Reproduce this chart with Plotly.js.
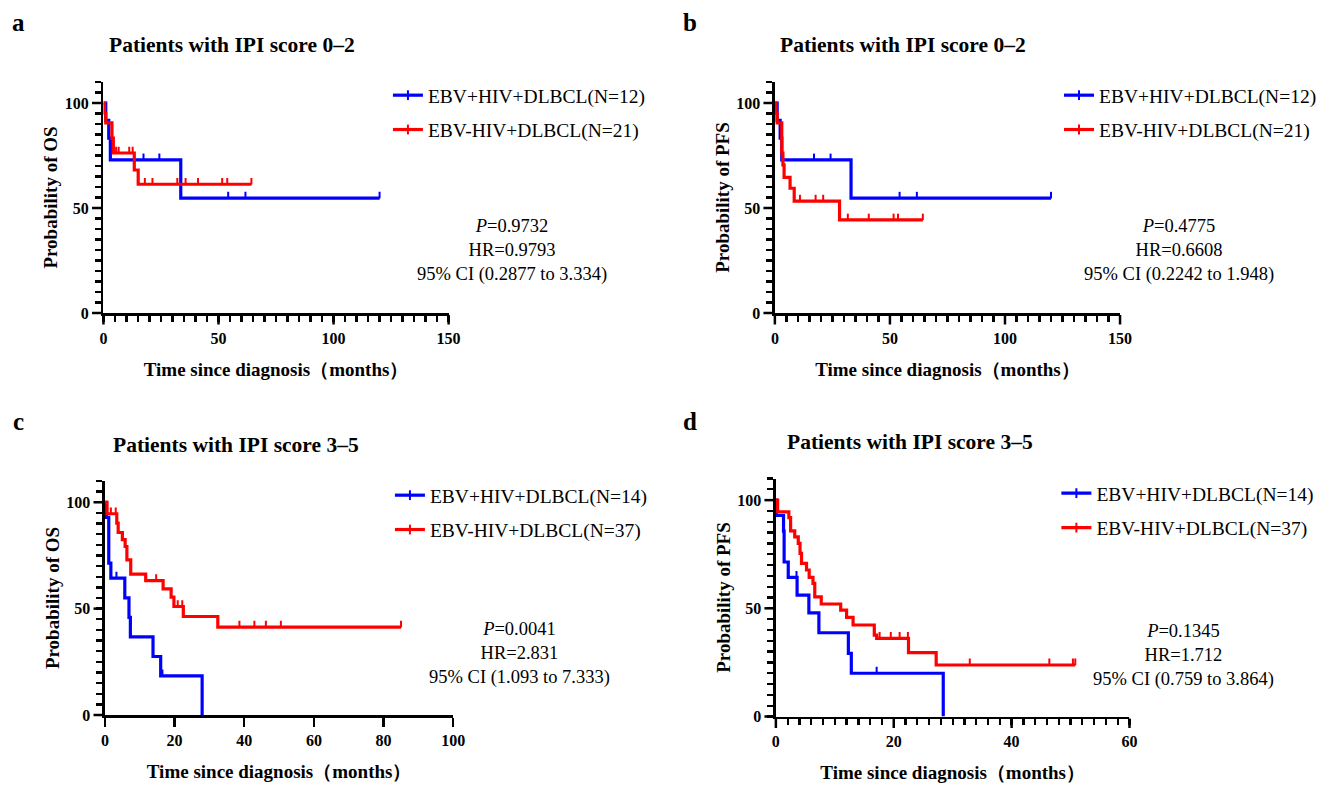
<!DOCTYPE html>
<html>
<head>
<meta charset="utf-8">
<script src="https://cdn.plot.ly/plotly-3.0.1.min.js"></script>
<style>
  body { margin: 0; background: #fff; }
  #chart { width: 1322px; height: 793px; }
</style>
</head>
<body>
<div id="chart"></div>
<script>
// ---- data (months, % surviving) ----
// a: OS, IPI 0-2
const osLowPosT = [0, 1, 2.3, 3, 33.6, 120];
const osLowPosS = [100, 91.7, 83.3, 72.9, 54.7, 54.7];
const osLowPosCens = [17.4, 24.3, 54.2, 61.7, 120];
const osLowNegT = [0, 0.5, 1, 3.7, 4.3, 13.4, 15.1, 64.3];
const osLowNegS = [100, 95.2, 90.5, 83.3, 76.2, 68.1, 61.3, 61.3];
const osLowNegCens = [5.5, 6.6, 11.2, 12.7, 18.0, 21.3, 32.1, 35.7, 41.1, 51.6, 53.8, 64.3];

// b: PFS, IPI 0-2
const pfsLowPosT = [0, 1, 2.3, 3, 33.1, 120];
const pfsLowPosS = [100, 91.7, 83.3, 72.9, 54.7, 54.7];
const pfsLowPosCens = [17.0, 24.2, 54.2, 61.7, 120];
const pfsLowNegT = [0, 0.5, 1, 3.0, 3.5, 4.0, 6.6, 8.4, 28.1, 64.3];
const pfsLowNegS = [100, 95.2, 90.5, 76.2, 70.5, 64.6, 59.4, 53.3, 44.3, 44.3];
const pfsLowNegCens = [10.9, 17.7, 21.0, 31.7, 40.8, 51.6, 53.5, 64.3];

// c: OS, IPI 3-5
const osHighPosT = [0, 0.4, 1.1, 1.7, 5.7, 6.9, 7.3, 13.8, 16.0, 27.9];
const osHighPosS = [100, 92.9, 71.4, 64.3, 55.1, 45.9, 36.7, 27.5, 18.4, 0];
const osHighPosCens = [3.3, 16.5];
const osHighNegT = [0, 0.6, 3.4, 3.8, 5.0, 5.8, 6.3, 7.4, 11.7, 16.7, 19.0, 19.8, 22.5, 32.4, 85.0];
const osHighNegS = [100, 94.6, 90.2, 85.8, 82.4, 79.2, 72.9, 66.2, 63.2, 59.3, 55.4, 51.0, 46.3, 41.3, 41.3];
const osHighNegCens = [1.7, 3.1, 14.7, 20.9, 22.2, 38.6, 42.9, 46.2, 50.5, 85.0];

// d: PFS, IPI 3-5
const pfsHighPosT = [0, 0.1, 1.3, 1.4, 2.1, 3.6, 5.6, 7.3, 12.3, 12.8, 28.4];
const pfsHighPosS = [100, 92.9, 85.7, 71.4, 64.3, 56.1, 47.9, 38.7, 29.2, 20.0, 0];
const pfsHighPosCens = [3.5, 17.1];
const pfsHighNegT = [0, 0.3, 2.2, 2.5, 3.2, 3.8, 4.1, 4.35, 5.2, 5.65, 6.3, 6.6, 7.7, 11.0, 12.0, 13.1, 16.7, 17.1, 22.5, 27.2, 50.8];
const pfsHighNegS = [100, 94.6, 91.9, 85.8, 83.0, 80.0, 75.4, 70.8, 67.7, 64.3, 61.5, 55.3, 52.0, 49.2, 45.8, 42.3, 37.6, 36.1, 29.5, 23.8, 23.8];
const pfsHighNegCens = [17.6, 19.5, 21.0, 22.4, 32.9, 46.4, 50.4, 50.8];

const groupNames = ['EBV+HIV+DLBCL', 'EBV-HIV+DLBCL'];
const groupN = {a: [12, 21], b: [12, 21], c: [14, 37], d: [14, 37]};
const panelTitles = {a: 'Patients with IPI score 0–2', b: 'Patients with IPI score 0–2',
                     c: 'Patients with IPI score 3–5', d: 'Patients with IPI score 3–5'};
const yTitles = {a: 'Probability of OS', b: 'Probability of PFS', c: 'Probability of OS', d: 'Probability of PFS'};
const xTitle = 'Time since diagnosis（months）';
const stats = {
  a: ['0.9732', '0.9793', '0.2877 to 3.334'],
  b: ['0.4775', '0.6608', '0.2242 to 1.948'],
  c: ['0.0041', '2.831', '1.093 to 7.333'],
  d: ['0.1345', '1.712', '0.759 to 3.864']
};

// ---- layout helpers (pixel boxes -> paper fractions) ----
const W = 1322, H = 793;
const px = x => x / W;
const py = y => 1 - y / H;

const BLUE = '#0000FF', RED = '#FF0000';
const SERIF = 'Liberation Serif, Times New Roman, serif';
const YMAX = 110;

// plot boxes: left/right = x range ends, top = y at 110, bottom = y at 0
const boxes = {
  a: {l: 104, r: 451, t: 82, b: 313, xmax: 150, dtick: 50, minor: 5},
  b: {l: 779, r: 1126, t: 82, b: 313, xmax: 150, dtick: 50, minor: 5},
  c: {l: 105.5, r: 455.7, t: 481, b: 715, xmax: 100, dtick: 20, minor: 20},
  d: {l: 780, r: 1135.5, t: 478.5, b: 716.5, xmax: 60, dtick: 20, minor: 2}
};

function stepAt(times, surv, t) {
  let v = surv[0];
  for (let i = 0; i < times.length; i++) {
    if (times[i] <= t) v = surv[i];
  }
  return v;
}

// every tick position on an axis, labelled only at the major steps
function tickSet(max, step, major, labelMax) {
  const vals = [], text = [];
  for (let k = 0; k * step <= max + 1e-9; k++) {
    const v = Math.round(k * step * 100) / 100;
    const isMajor = Math.abs(v / major - Math.round(v / major)) < 1e-6 && v <= labelMax;
    vals.push(v);
    text.push(isMajor ? String(v) : '');
  }
  return {vals, text};
}

function kmTraces(times, surv, cens, color, xa, ya) {
  const line = {
    x: times, y: surv, xaxis: xa, yaxis: ya,
    type: 'scatter', mode: 'lines',
    line: {color: color, width: 3.2, shape: 'hv'},
    showlegend: false, hoverinfo: 'skip'
  };
  // censor marks: short upward ticks
  const marks = {
    x: cens, y: cens.map(t => stepAt(times, surv, t)), xaxis: xa, yaxis: ya,
    type: 'scatter', mode: 'markers',
    marker: {size: 1, color: color},
    error_y: {type: 'data', symmetric: false, array: cens.map(() => 3), arrayminus: cens.map(() => 0),
              width: 0, thickness: 2, color: color},
    showlegend: false, hoverinfo: 'skip'
  };
  return [line, marks];
}

function legendTrace(name, color, xa, ya, legendId, grp) {
  return {
    x: [null], y: [null], xaxis: xa, yaxis: ya,
    type: 'scatter', mode: 'lines+markers', name: name,
    legend: legendId, legendgroup: grp,
    line: {color: color, width: 3.2},
    marker: {symbol: 'line-ns', size: 7, color: color, line: {color: color, width: 2}}
  };
}

const curves = {
  a: [[osLowPosT, osLowPosS, osLowPosCens], [osLowNegT, osLowNegS, osLowNegCens]],
  b: [[pfsLowPosT, pfsLowPosS, pfsLowPosCens], [pfsLowNegT, pfsLowNegS, pfsLowNegCens]],
  c: [[osHighPosT, osHighPosS, osHighPosCens], [osHighNegT, osHighNegS, osHighNegCens]],
  d: [[pfsHighPosT, pfsHighPosS, pfsHighPosCens], [pfsHighNegT, pfsHighNegS, pfsHighNegCens]]
};

const layout = {
  width: W, height: H,
  margin: {l: 0, r: 0, t: 0, b: 0},
  paper_bgcolor: '#fff', plot_bgcolor: '#fff',
  font: {family: SERIF, color: '#000'},
  annotations: [],
  shapes: []
};
const data = [];

const tickFont = {family: SERIF, size: 16, weight: 'bold', color: '#000'};
const titleFont = {family: SERIF, size: 19, weight: 'bold', color: '#000'};

['a', 'b', 'c', 'd'].forEach((p, i) => {
  const n = i === 0 ? '' : String(i + 1);
  const xa = 'x' + n, ya = 'y' + n;
  const bx = boxes[p];
  const xt = tickSet(bx.xmax, bx.minor, bx.dtick, bx.xmax);
  const yt = tickSet(YMAX, 5, 50, 100);
  const allMajor = bx.minor === bx.dtick;

  layout['xaxis' + n] = {
    domain: [px(bx.l), px(bx.r)], anchor: ya, range: [0, bx.xmax],
    showgrid: false, zeroline: false, showline: true, linecolor: '#000', linewidth: 2.5,
    ticks: 'outside', ticklen: allMajor ? 9 : 6, tickwidth: 2.3, tickcolor: '#000',
    tickmode: 'array', tickvals: xt.vals, ticktext: xt.text,
    ticklabelstandoff: allMajor ? 0 : 3,
    tickfont: tickFont,
    title: {text: xTitle, font: titleFont, standoff: 17},
    automargin: false, fixedrange: true
  };
  layout['yaxis' + n] = {
    domain: [py(bx.b), py(bx.t)], anchor: xa, range: [0, YMAX],
    showgrid: false, zeroline: false, showline: true, linecolor: '#000', linewidth: 2.5,
    ticks: 'outside', ticklen: 6, tickwidth: 2.3, tickcolor: '#000',
    tickmode: 'array', tickvals: yt.vals, ticktext: yt.text,
    ticklabelstandoff: 3,
    tickfont: tickFont,
    title: {text: yTitles[p], font: titleFont, standoff: 2},
    automargin: false, fixedrange: true
  };

  // lengthen the labelled ticks a little
  const xw = bx.r - bx.l, yh = bx.b - bx.t;
  xt.vals.forEach((v, k) => {
    if (!xt.text[k] || allMajor) return;
    const xp = px(bx.l + v / bx.xmax * xw);
    layout.shapes.push({
      type: 'line', xref: 'paper', yref: 'paper',
      x0: xp, x1: xp, y0: py(bx.b + 2), y1: py(bx.b + 11.5),
      line: {color: '#000', width: 2.5}, layer: 'above'
    });
  });
  yt.vals.forEach((v, k) => {
    if (!yt.text[k]) return;
    const yp = py(bx.b - v / YMAX * yh);
    layout.shapes.push({
      type: 'line', xref: 'paper', yref: 'paper',
      x0: px(bx.l - 2), x1: px(bx.l - 11.5), y0: yp, y1: yp,
      line: {color: '#000', width: 2.5}, layer: 'above'
    });
  });

  const colors = [BLUE, RED];
  curves[p].forEach((c, k) => {
    data.push(...kmTraces(c[0], c[1], c[2], colors[k], xa, ya));
  });
  const legendId = i === 0 ? 'legend' : 'legend' + (i + 1);
  groupNames.forEach((g, k) => {
    data.push(legendTrace(g + '(N=' + groupN[p][k] + ')', colors[k], xa, ya, legendId, p + k));
  });
});

// legends
const legendPos = {
  legend: [390, 76], legend2: [1065, 76], legend3: [392, 476], legend4: [1062, 474]
};
Object.keys(legendPos).forEach(k => {
  layout[k] = {
    x: px(legendPos[k][0]), y: py(legendPos[k][1]), xanchor: 'left', yanchor: 'top',
    xref: 'paper', yref: 'paper',
    font: {family: SERIF, size: 19.5, color: '#000'},
    bgcolor: 'rgba(0,0,0,0)', itemwidth: 30, tracegroupgap: 6,
    traceorder: 'grouped'
  };
});

// panel letters, titles, stats text
const letterPos = {a: [19, 22], b: [694, 22], c: [19, 421], d: [694, 421]};
const titlePos = {a: [233, 45], b: [908, 45], c: [237, 445], d: [915, 442]};
const statsPos = {a: [515, 250], b: [1185, 250], c: [522, 653], d: [1190, 655]};
['a', 'b', 'c', 'd'].forEach(p => {
  layout.annotations.push({
    xref: 'paper', yref: 'paper', x: px(letterPos[p][0]), y: py(letterPos[p][1]),
    text: '<b>' + p + '</b>', showarrow: false, xanchor: 'center', yanchor: 'middle',
    font: {family: SERIF, size: 25, color: '#000'}
  });
  layout.annotations.push({
    xref: 'paper', yref: 'paper', x: px(titlePos[p][0]), y: py(titlePos[p][1]),
    text: '<b>' + panelTitles[p] + '</b>', showarrow: false, xanchor: 'center', yanchor: 'middle',
    font: {family: SERIF, size: 21.5, color: '#000'}
  });
  const s = stats[p];
  layout.annotations.push({
    xref: 'paper', yref: 'paper', x: px(statsPos[p][0]), y: py(statsPos[p][1]),
    text: '<i>P</i>=' + s[0] + '<br>HR=' + s[1] + '<br>95% CI (' + s[2] + ')',
    showarrow: false, xanchor: 'center', yanchor: 'middle', align: 'center',
    font: {family: SERIF, size: 18.5, color: '#000'}
  });
});

Plotly.newPlot('chart', data, layout, {displayModeBar: false, staticPlot: true});
</script>
</body>
</html>
